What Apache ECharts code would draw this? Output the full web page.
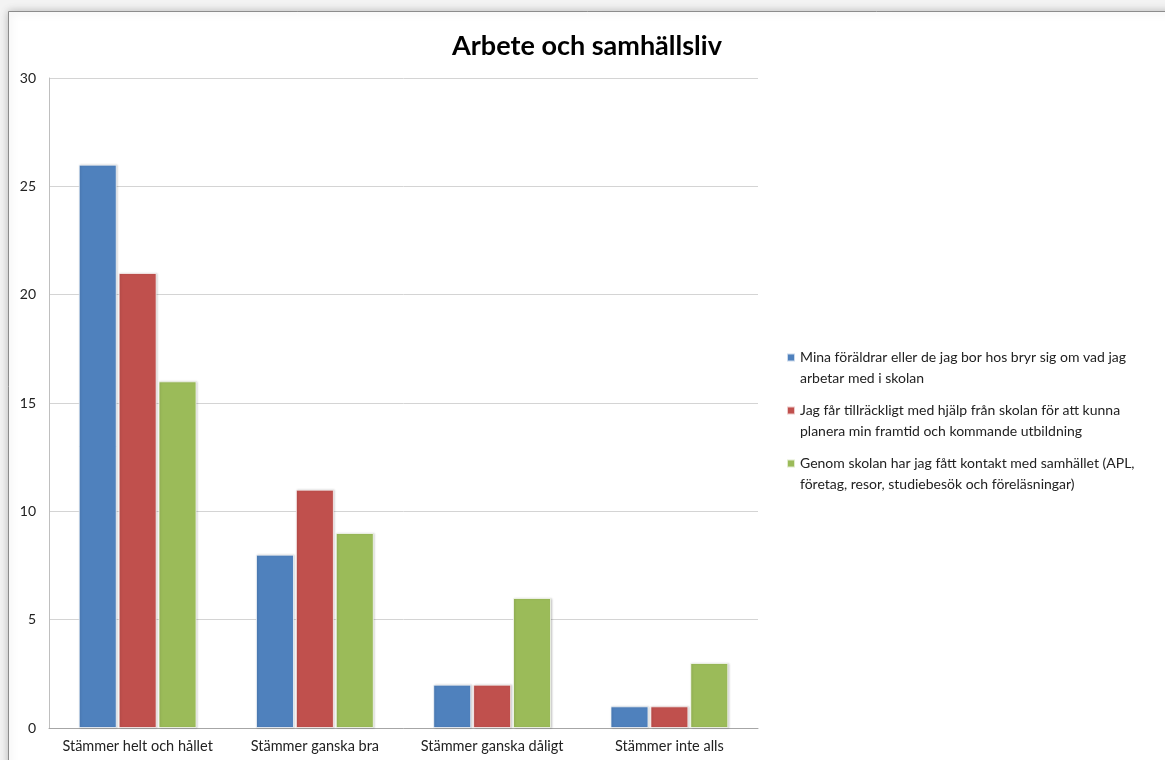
<!DOCTYPE html>
<html lang="sv">
<head>
    <meta charset="UTF-8">
    <title>Arbete och samhällsliv</title>
    <script src="https://cdn.jsdelivr.net/npm/echarts@6/dist/echarts.min.js"></script>
    <style>
        html, body { margin: 0; padding: 0; background: #f3f3f3; }
    </style>
</head>
<body>
    <div id="main" style="width: 1165px;height:760px;"></div>
    <script type="text/javascript">
        // kategorier på x-axeln
        var categories = ['Stämmer helt och hållet', 'Stämmer ganska bra', 'Stämmer ganska dåligt', 'Stämmer inte alls'];

        // serienamn (legend)
        var seriesNames = [
            'Mina föräldrar eller de jag bor hos bryr sig om vad jag\narbetar med i skolan',
            'Jag får tillräckligt med hjälp från skolan för att kunna\nplanera min framtid och kommande utbildning',
            'Genom skolan har jag fått kontakt med samhället (APL,\nföretag, resor, studiebesök och föreläsningar)'
        ];

        // värden
        var foraldrar = [26, 8, 2, 1];
        var hjalp = [21, 11, 2, 1];
        var kontakt = [16, 9, 6, 3];

        var colors = ['#4f81bd', '#c0504d', '#9bbb59'];
        var font = 'Lato, "Open Sans", sans-serif';

        var myChart = echarts.init(document.getElementById('main'));

        function bar(name, data, color) {
            return {
                name: name,
                type: 'bar',
                data: data,
                barWidth: 38,
                barGap: '5%',
                itemStyle: {
                    color: color,
                    borderColor: 'rgba(255,255,255,0.7)',
                    borderWidth: 1,
                    shadowColor: 'rgba(0,0,0,0.18)',
                    shadowBlur: 2,
                    shadowOffsetX: 1
                }
            };
        }

        var option = {
            backgroundColor: '#f3f3f3',
            animation: false,
            textStyle: { fontFamily: font },
            graphic: [
                {
                    // diagramram med skugga
                    type: 'rect',
                    z: -10,
                    shape: { x: 8.5, y: 11.5, width: 1200, height: 800 },
                    style: {
                        fill: '#ffffff',
                        stroke: '#8c8c8c',
                        lineWidth: 1,
                        shadowColor: 'rgba(0,0,0,0.25)',
                        shadowBlur: 8
                    }
                }
            ],
            title: {
                text: 'Arbete och samhällsliv',
                left: 582,
                top: 28,
                textAlign: 'center',
                textStyle: { fontFamily: font, fontSize: 27, fontWeight: 'bold', color: '#000' }
            },
            legend: {
                orient: 'vertical',
                left: 781,
                top: 342,
                itemWidth: 8,
                // ikonen ligger vid första textraden
                itemHeight: 29,
                itemGap: 11,
                icon: 'path://M0,0L8,0L8,8L0,8Z M0,29',
                textStyle: { fontFamily: font, fontSize: 14, lineHeight: 21, color: '#222' },
                data: seriesNames
            },
            grid: { left: 49, right: 407, top: 78, bottom: 32 },
            xAxis: {
                type: 'category',
                data: categories,
                axisTick: { show: false },
                axisLine: { lineStyle: { color: '#a6a6a6' } },
                axisLabel: { fontFamily: font, fontSize: 14.5, color: '#222', margin: 11, interval: 0 }
            },
            yAxis: {
                type: 'value',
                min: 0,
                max: 30,
                interval: 5,
                axisLine: { show: true, lineStyle: { color: '#bfbfbf' } },
                axisTick: { show: false },
                splitLine: { lineStyle: { color: '#d4d4d4' } },
                axisLabel: { fontFamily: font, fontSize: 14, color: '#222', margin: 13 }
            },
            series: [
                bar(seriesNames[0], foraldrar, colors[0]),
                bar(seriesNames[1], hjalp, colors[1]),
                bar(seriesNames[2], kontakt, colors[2])
            ]
        };

        myChart.setOption(option);
    </script>
</body>
</html>
